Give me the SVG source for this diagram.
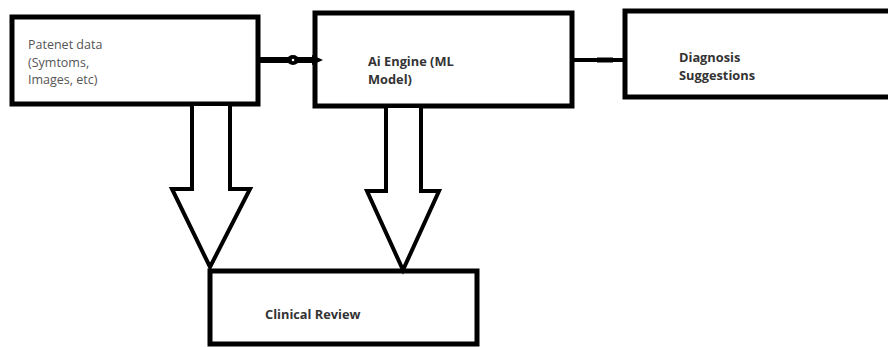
<svg xmlns="http://www.w3.org/2000/svg" width="888" height="347" viewBox="0 0 888 347">
<style>
.box{fill:#fff;stroke:#000;stroke-width:5}
.blk{fill:#fff;stroke:#000;stroke-width:4;stroke-linejoin:miter}
.t{font-family:"Open Sans","Noto Sans",sans-serif;font-size:12.5px}
.b{font-weight:700;fill:#333;font-size:12.8px}
.g{fill:#555}
</style>
<rect width="888" height="347" fill="#fff"/>
<g id="patient-data">
<rect class="box" x="12" y="17" width="246" height="87"/>
<text class="t g" x="28" y="49">Patenet data</text>
<text class="t g" x="28" y="67">(Symtoms,</text>
<text class="t g" x="28" y="84">Images, etc)</text>
</g>
<g id="ai-engine">
<rect class="box" x="315" y="13" width="257" height="93"/>
<text class="t b" x="368" y="66">Ai Engine (ML</text>
<text class="t b" x="368" y="84">Model)</text>
</g>
<g id="diagnosis">
<rect class="box" x="625" y="11" width="270" height="86"/>
<text class="t b" x="679" y="62">Diagnosis</text>
<text class="t b" x="679" y="80">Suggestions</text>
</g>
<g id="clinical-review">
<rect class="box" x="210" y="271" width="267" height="73"/>
<text class="t b" x="265" y="319">Clinical Review</text>
</g>
<g id="connectors">
<line x1="260" y1="60" x2="313" y2="60" stroke="#000" stroke-width="6"/>
<ellipse cx="293" cy="60" rx="6" ry="5" fill="#000"/>
<circle cx="293" cy="60" r="1.3" fill="#fff"/>
<polygon points="312,55 323,60 312,65" fill="#000"/>
<line x1="572" y1="60" x2="625" y2="60" stroke="#000" stroke-width="4"/>
<rect x="597" y="57.5" width="16" height="5" fill="#000"/>
<path class="blk" d="M192,106 V189 H172 L210,267 L250,189 H230 V106"/>
<path class="blk" d="M386,108 V191 H367 L403,270 L439,191 H421 V108"/>
</g>
</svg>
